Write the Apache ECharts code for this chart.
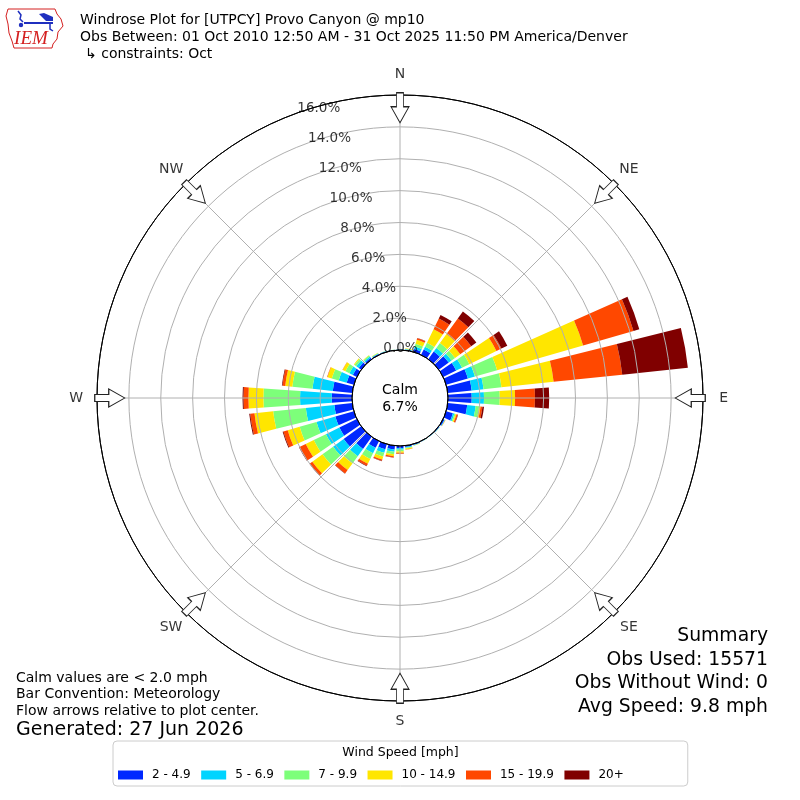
<!DOCTYPE html>
<html>
<head>
<meta charset="utf-8">
<script src="https://cdn.jsdelivr.net/npm/echarts/dist/echarts.min.js"></script>
<style>
  html, body { margin: 0; padding: 0; background: #fff; }
  #chart { width: 800px; height: 800px; }
</style>
</head>
<body>
<div id="chart"></div>
<script>
// ---- Data (percent of observations) ----
const directionDeg = [0,10,20,30,40,50,60,70,80,90,100,110,120,130,140,150,160,170,
                      180,190,200,210,220,230,240,250,260,270,280,290,300,310,320,330,340,350];
const speedBins = ['2 - 4.9', '5 - 6.9', '7 - 9.9', '10 - 14.9', '15 - 19.9', '20+'];
const binColors = ['#0028ff', '#00d4ff', '#7dff7a', '#ffe600', '#ff4800', '#800000'];

const speed_2_49 = [0.03,0.05,0.19,0.38,0.59,0.77,0.91,1.42,1.51,1.49,1.23,0.44,0.09,0.05,0.03,0.03,0.06,0.08,
                    0.14,0.24,0.33,0.47,0.94,1.36,1.22,1.21,1.13,1.27,1.23,0.47,0.28,0.19,0.11,0.06,0.04,0.03];
const speed_5_69 = [0.01,0.03,0.16,0.19,0.28,0.22,0.41,0.46,0.75,0.77,0.53,0.10,0.03,0.02,0.01,0.01,0.02,0.05,
                    0.09,0.14,0.24,0.38,0.56,0.82,0.94,1.23,1.80,1.99,1.28,0.52,0.24,0.19,0.09,0.04,0.02,0.01];
const speed_7_99 = [0.01,0.02,0.18,0.28,0.38,0.27,0.51,1.45,1.13,0.99,0.22,0.07,0.02,0.01,0.01,0.01,0.02,0.05,
                    0.11,0.16,0.24,0.40,0.56,0.82,0.85,1.10,2.06,2.30,1.27,0.45,0.28,0.14,0.08,0.03,0.01,0.01];
const speed_10_149 = [0,0.02,0.26,0.94,0.70,0.40,1.89,5.61,3.29,0.96,0.09,0.07,0.01,0,0,0,0.01,0.05,
                      0.09,0.12,0.19,0.33,0.52,0.79,0.56,0.78,1.18,0.94,0.45,0.28,0.19,0.05,0.03,0.02,0,0];
const speed_15_199 = [0,0,0.10,0.75,1.21,0.85,0.35,3.29,4.33,1.25,0.12,0.08,0.01,0,0,0,0,0.02,
                      0.05,0.08,0.09,0.14,0.26,0.19,0.44,0.28,0.27,0.31,0.17,0.03,0.02,0,0,0,0,0];
const speed_20p = [0,0,0.02,0.25,0.54,0.40,0.41,0.38,4.14,0.89,0.10,0.02,0,0,0,0,0,0,
                   0.01,0.02,0.02,0.03,0.02,0.03,0.03,0.05,0.06,0.06,0.04,0,0,0,0,0,0,0];
const seriesValues = [speed_2_49, speed_5_69, speed_7_99, speed_10_149, speed_15_199, speed_20p];

const radialTicks = [0, 2, 4, 6, 8, 10, 12, 14, 16];
const compassAngles = [0, 45, 90, 135, 180, 225, 270, 315];
const compassNames = ['N', 'NE', 'E', 'SE', 'S', 'SW', 'W', 'NW'];
const calmPercent = '6.7%';

const titleLines = [
  'Windrose Plot for [UTPCY] Provo Canyon @ mp10',
  'Obs Between: 01 Oct 2010 12:50 AM - 31 Oct 2025 11:50 PM America/Denver',
  '\u21b3 constraints: Oct'
];
const summaryLines = ['Summary', 'Obs Used: 15571', 'Obs Without Wind: 0', 'Avg Speed: 9.8 mph'];
const noteLines = ['Calm values are < 2.0 mph', 'Bar Convention: Meteorology', 'Flow arrows relative to plot center.'];
const generatedText = 'Generated: 27 Jun 2026';

// ---- Layout constants ----
const FONT = '"DejaVu Sans", "Liberation Sans", sans-serif';
const CENTER = [400, 398];
const RADII = [48, 303];
const RMAX = 16;
const labelAngle = 340.3;
const arrowRadius = 15.2;
const compassLabelRadius = 17.3;
const arrowPath = 'path://M5.5,0 L12.5,0 L12.5,14 L18,14 L9,30 L0,14 L5.5,14 Z';

const chart = echarts.init(document.getElementById('chart'), null, {renderer: 'canvas'});

const barSeries = speedBins.map((name, i) => ({
  name: name,
  type: 'bar',
  coordinateSystem: 'polar',
  polarIndex: 0,
  stack: 'wind',
  barCategoryGap: '20%',
  data: seriesValues[i],
  itemStyle: { color: binColors[i] },
  silent: true,
  z: 2
}));

const gridColors = radialTicks.map((t, i) => (i === 0 || i === radialTicks.length - 1) ? '#000000' : '#b0b0b0');

const graphics = [];
// IEM logo
graphics.push({
  type: 'polygon',
  shape: { points: [[8,9],[55,9],[57,14],[61,19],[63,26],[58,32],[57,39],[53,44],[52,48],[14,48],[12,41],[9,33],[8,24],[6,16]] },
  style: { fill: 'none', stroke: '#d42020', lineWidth: 1 }
});
graphics.push({ type: 'line', shape: { x1: 24, y1: 23, x2: 53, y2: 23 }, style: { stroke: '#1f2fbf', lineWidth: 2 } });
graphics.push({ type: 'polyline', shape: { points: [[18,11],[21,15],[20,19],[23,22]] }, style: { stroke: '#1f2fbf', fill: 'none', lineWidth: 1.5 } });
graphics.push({ type: 'circle', shape: { cx: 21, cy: 25, r: 2.2 }, style: { fill: '#1f2fbf' } });
graphics.push({ type: 'polygon', shape: { points: [[39,14],[44,13],[53,17],[53,21],[46,21]] }, style: { fill: '#1f2fbf' } });
graphics.push({ type: 'polyline', shape: { points: [[50,23],[50,29],[53,31]] }, style: { stroke: '#1f2fbf', fill: 'none', lineWidth: 1.5 } });
graphics.push({
  type: 'text', x: 31, y: 39,
  style: { text: 'IEM', fill: '#d42020', font: 'italic 19px "Liberation Serif", "DejaVu Serif", serif', align: 'center', verticalAlign: 'middle', textAlign: 'center', textVerticalAlign: 'middle' }
});
// Title lines
[[80, 20.5], [80, 37], [85, 54]].forEach((p, i) => {
  graphics.push({
    type: 'text', x: p[0], y: p[1],
    style: { text: titleLines[i], fill: '#000', font: '14px ' + FONT, align: 'left', verticalAlign: 'middle', textAlign: 'left', textVerticalAlign: 'middle' }
  });
});
// Calm text
graphics.push({
  type: 'text', x: 400, y: 398.5, z: 20,
  style: { text: 'Calm\n' + calmPercent, fill: '#000', font: '14px ' + FONT, lineHeight: 17, align: 'center', verticalAlign: 'middle', textAlign: 'center', textVerticalAlign: 'middle' }
});
// Summary
summaryLines.forEach((t, i) => {
  graphics.push({
    type: 'text', x: 768, y: 636.5 + i * 23.4,
    style: { text: t, fill: '#000', font: '18.8px ' + FONT, align: 'right', verticalAlign: 'middle', textAlign: 'right', textVerticalAlign: 'middle' }
  });
});
// Notes
noteLines.forEach((t, i) => {
  graphics.push({
    type: 'text', x: 16, y: 678 + i * 16.6,
    style: { text: t, fill: '#000', font: '14px ' + FONT, align: 'left', verticalAlign: 'middle', textAlign: 'left', textVerticalAlign: 'middle' }
  });
});
graphics.push({
  type: 'text', x: 16, y: 730.5,
  style: { text: generatedText, fill: '#000', font: '19px ' + FONT, align: 'left', verticalAlign: 'middle', textAlign: 'left', textVerticalAlign: 'middle' }
});
// Legend title
graphics.push({
  type: 'text', x: 400.5, y: 753, z: 100,
  style: { text: 'Wind Speed [mph]', fill: '#000', font: '12.5px ' + FONT, align: 'center', verticalAlign: 'middle', textAlign: 'center', textVerticalAlign: 'middle' }
});

const option = {
  animation: false,
  backgroundColor: '#ffffff',
  polar: [
    { center: CENTER, radius: RADII },
    { center: CENTER, radius: RADII }
  ],
  angleAxis: [
    {
      polarIndex: 0, type: 'category', data: directionDeg.map(String),
      startAngle: 95, clockwise: true,
      axisLine: { show: false }, axisTick: { show: false }, axisLabel: { show: false },
      splitLine: { show: false }, splitArea: { show: false }
    },
    {
      polarIndex: 1, type: 'value', min: 0, max: 360, interval: 45,
      startAngle: 90, clockwise: true, z: 3,
      axisLine: { show: true, lineStyle: { color: '#000', width: 1 } },
      axisTick: { show: false },
      axisLabel: { show: false },
      splitLine: { show: true, lineStyle: { color: '#b0b0b0', width: 1 } }
    }
  ],
  radiusAxis: [
    {
      polarIndex: 0, type: 'value', min: 0, max: RMAX,
      axisLine: { show: false }, axisTick: { show: false }, axisLabel: { show: false },
      splitLine: { show: false }
    },
    {
      polarIndex: 1, type: 'value', min: 0, max: RMAX, interval: 2, z: 3,
      axisLine: { show: false }, axisTick: { show: false }, axisLabel: { show: false },
      splitLine: { show: true, lineStyle: { color: gridColors, width: 1 } }
    }
  ],
  legend: {
    left: 113, top: 741, orient: 'horizontal',
    icon: 'rect', itemWidth: 25, itemHeight: 9, itemGap: 10.5,
    padding: [28, 64, 5, 5],
    borderColor: '#cccccc', borderWidth: 1, borderRadius: 4,
    backgroundColor: '#ffffff',
    selectedMode: false,
    textStyle: { fontSize: 12, color: '#000', fontFamily: FONT, padding: [0, 0, 0, 4] },
    data: speedBins
  },
  series: barSeries.concat([
    {
      type: 'scatter', coordinateSystem: 'polar', polarIndex: 1, clip: false,
      symbol: arrowPath, symbolSize: [18, 30], symbolKeepAspect: false,
      data: compassAngles.map(a => ({ value: [arrowRadius, a], symbolRotate: -a })),
      itemStyle: { color: '#ffffff', borderColor: '#222', borderWidth: 1, opacity: 1 },
      silent: true, z: 10
    },
    {
      type: 'scatter', coordinateSystem: 'polar', polarIndex: 1, clip: false,
      symbol: 'circle', symbolSize: 1,
      data: compassAngles.map((a, i) => ({ value: [compassLabelRadius, a], name: compassNames[i] })),
      itemStyle: { color: 'rgba(0,0,0,0)' },
      label: {
        show: true, position: 'inside', fontSize: 14, color: '#000', fontFamily: FONT,
        formatter: p => p.name
      },
      silent: true, z: 12
    },
    {
      type: 'scatter', coordinateSystem: 'polar', polarIndex: 1, clip: false,
      symbol: 'circle', symbolSize: 1,
      data: radialTicks.map(t => [t, labelAngle]),
      itemStyle: { color: 'rgba(0,0,0,0)' },
      label: {
        show: true, position: [0, 3], align: 'left', verticalAlign: 'bottom',
        fontSize: 13.5, color: '#000', fontFamily: FONT,
        formatter: p => p.value[0].toFixed(1) + '%'
      },
      silent: true, z: 12
    }
  ]),
  graphic: { elements: graphics }
};

chart.setOption(option);
</script>
</body>
</html>
